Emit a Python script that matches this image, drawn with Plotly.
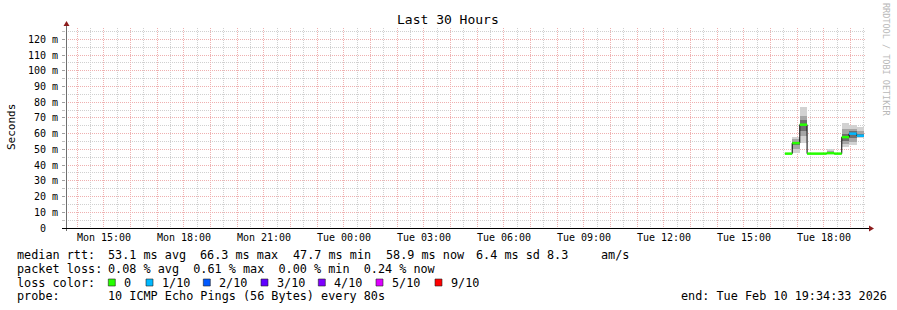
import plotly.graph_objects as go
import pandas as pd

# ---------------- data ----------------
title_text = "Last 30 Hours"
x_start = "2026-02-09 13:34:33"
x_end = "2026-02-10 19:34:33"

x_tick_times = ["2026-02-09 15:00", "2026-02-09 18:00", "2026-02-09 21:00",
                "2026-02-10 00:00", "2026-02-10 03:00", "2026-02-10 06:00",
                "2026-02-10 09:00", "2026-02-10 12:00", "2026-02-10 15:00",
                "2026-02-10 18:00"]
x_tick_labels = ["Mon 15:00", "Mon 18:00", "Mon 21:00", "Tue 00:00", "Tue 03:00",
                 "Tue 06:00", "Tue 09:00", "Tue 12:00", "Tue 15:00", "Tue 18:00"]

y_tick_vals = [0, 10, 20, 30, 40, 50, 60, 70, 80, 90, 100, 110, 120]
y_tick_labels = ["0\u00a0\u00a0", "10 m", "20 m", "30 m", "40 m", "50 m", "60 m",
                 "70 m", "80 m", "90 m", "100 m", "110 m", "120 m"]

step_start = ["2026-02-10 16:32:00", "2026-02-10 16:48:30", "2026-02-10 17:05:30",
              "2026-02-10 17:22:00", "2026-02-10 18:06:00", "2026-02-10 18:23:00",
              "2026-02-10 18:40:00", "2026-02-10 18:56:30", "2026-02-10 19:13:30"]
step_end = ["2026-02-10 16:48:30", "2026-02-10 17:05:30", "2026-02-10 17:22:00",
            "2026-02-10 18:06:00", "2026-02-10 18:23:00", "2026-02-10 18:40:00",
            "2026-02-10 18:56:30", "2026-02-10 19:13:30", "2026-02-10 19:30:00"]
median_ms = [47.3, 54.0, 65.7, 47.3, 47.6, 47.3, 57.8, 60.0, 58.7]
loss_idx = [0, 0, 0, 0, 0, 0, 0, 1, 1]
ping_min = [47.3, 47.6, 54.0, 47.3, 47.3, 47.3, 51.6, 52.7, 57.0]
ping_p20 = [47.3, 50.5, 58.5, 47.3, 47.5, 47.3, 53.5, 54.5, 57.8]
ping_p35 = [47.3, 52.5, 62.0, 47.3, 47.6, 47.3, 55.5, 57.0, 58.3]
ping_p65 = [47.3, 55.0, 68.5, 47.3, 48.0, 47.3, 60.0, 61.5, 59.5]
ping_p80 = [47.3, 56.5, 71.5, 47.3, 49.0, 47.3, 63.0, 63.0, 61.5]
ping_max = [47.3, 58.0, 76.8, 47.3, 50.0, 47.3, 66.9, 65.4, 64.3]

loss_labels = ["0", "1/10", "2/10", "3/10", "4/10", "5/10", "9/10"]
loss_colors = ["#26ff00", "#00b8ff", "#0059ff", "#5e00ff", "#7e00ff", "#dd00ff", "#ff0000"]

rtt_stats = ["53.1 ms avg", "66.3 ms max", "47.7 ms min", "58.9 ms now", "6.4 ms sd", "8.3", "am/s"]
loss_stats = "0.08 % avg  0.61 % max  0.00 % min  0.24 % now"
probe_text = "10 ICMP Echo Pings (56 Bytes) every 80s"
end_text = "end: Tue Feb 10 19:34:33 2026"

# ---------------- layout helpers ----------------
W, H = 897, 310
PL, PR, PT, PB = 66, 866, 28, 228
MONO = "DejaVu Sans Mono"


def px(x):
    return (x - PL) / (PR - PL)


def py(y):
    return (PB - y) / (PB - PT)


fig = go.Figure()

t0 = pd.to_datetime(step_start)
t1 = pd.to_datetime(step_end)
mids = t0 + (t1 - t0) / 2
widths = [(b - a).total_seconds() * 1000 for a, b in zip(t0, t1)]

# smoke bands (outer -> inner)
bands = [(ping_min, ping_max, "#d2d2d2"),
         (ping_p20, ping_p80, "#a6a6a6"),
         (ping_p35, ping_p65, "#6e6e6e")]
for lo, hi, col in bands:
    fig.add_trace(go.Bar(x=mids, y=[h - l for l, h in zip(lo, hi)], base=lo,
                         width=widths, marker=dict(color=col, line=dict(width=0)),
                         showlegend=False, hoverinfo="skip"))

# black connecting median line
fig.add_trace(go.Scatter(x=list(t0) + [t1[-1]], y=median_ms + [median_ms[-1]],
                         mode="lines", line=dict(color="black", width=1, shape="hv"),
                         showlegend=False, hoverinfo="skip"))

# coloured median segments by loss
for li, col in enumerate(loss_colors):
    xs, ys = [], []
    for a, b, m, l in zip(t0, t1, median_ms, loss_idx):
        if l == li:
            xs += [a, b, None]
            ys += [m, m, None]
    if xs:
        fig.add_trace(go.Scatter(x=xs, y=ys, mode="lines",
                                 line=dict(color=col, width=2.5),
                                 showlegend=False, hoverinfo="skip"))

# x grid: hourly (red), half-hourly (grey)
hours = pd.date_range("2026-02-09 14:00", "2026-02-10 19:00", freq="h")
half_hours = pd.date_range("2026-02-09 14:30", "2026-02-10 19:30", freq="h")
label_map = dict(zip(pd.to_datetime(x_tick_times), x_tick_labels))
hour_text = [label_map.get(h, "") for h in hours]

RED = "#efb0b0"
GREY = "#d0d0d0"

fig.update_layout(
    width=W, height=H,
    margin=dict(l=PL, r=W - PR, t=PT, b=H - PB, pad=0),
    paper_bgcolor="white", plot_bgcolor="white",
    barmode="overlay", bargap=0,
    showlegend=False,
    font=dict(family=MONO, color="black", size=10),
    xaxis=dict(
        type="date", range=[x_start, x_end],
        tickmode="array", tickvals=list(hours), ticktext=hour_text,
        showgrid=True, gridcolor=RED, griddash="1px,1px", gridwidth=1,
        ticks="", showline=False, zeroline=False,
        tickfont=dict(family=MONO, size=10, color="black"),
        minor=dict(tickmode="array", tickvals=list(half_hours), showgrid=True,
                   gridcolor=GREY, griddash="1px,1px", gridwidth=1, ticks=""),
        ticklabelstandoff=2,
    ),
    yaxis=dict(
        range=[0, 127.2], tickmode="array", tickvals=y_tick_vals, ticktext=y_tick_labels,
        showgrid=True, gridcolor=RED, griddash="1px,1px", gridwidth=1,
        ticks="outside", ticklen=3, tickcolor="#a0a0a0", tickwidth=1,
        showline=False, zeroline=False,
        tickfont=dict(family=MONO, size=10, color="black"),
        minor=dict(tickmode="array", tickvals=[v + 5 for v in y_tick_vals], showgrid=True,
                   gridcolor=GREY, griddash="1px,1px", gridwidth=1,
                   ticks="outside", ticklen=3, tickcolor="#c0c0c0"),
        ticklabelstandoff=2,
    ),
)

shapes = []
# y axis line
shapes.append(dict(type="line", xref="paper", yref="paper", x0=px(66.5), x1=px(66.5),
                   y0=py(231), y1=py(24), line=dict(color="#6f6f6f", width=1), layer="above"))
# x axis line
shapes.append(dict(type="line", xref="paper", yref="paper", x0=px(62), x1=px(870),
                   y0=py(228.5), y1=py(228.5), line=dict(color="black", width=1), layer="above"))
# arrows
ARROW = "#8c1c1c"
shapes.append(dict(type="path", xref="paper", yref="paper", layer="above",
                   path=f"M {px(63.5)} {py(26)} L {px(69.5)} {py(26)} L {px(66.5)} {py(21)} Z",
                   fillcolor=ARROW, line=dict(color=ARROW, width=0)))
shapes.append(dict(type="path", xref="paper", yref="paper", layer="above",
                   path=f"M {px(869)} {py(225.5)} L {px(869)} {py(231.5)} L {px(874)} {py(228.5)} Z",
                   fillcolor=ARROW, line=dict(color=ARROW, width=0)))

annotations = []


def ann(text, x, y, size=11.8, xanchor="left", color="black", angle=0, yanchor="middle"):
    annotations.append(dict(text=text, x=px(x), y=py(y), xref="paper", yref="paper",
                            xanchor=xanchor, yanchor=yanchor, showarrow=False,
                            borderpad=0, textangle=angle,
                            font=dict(family=MONO, size=size, color=color)))


ann(title_text, 448, 20, size=13, xanchor="center")
ann("Seconds", 11, 127, size=11, xanchor="center", angle=-90)
ann("RRDTOOL / TOBI OETIKER", 886, 60, size=8.5, xanchor="center", color="#b8b8b8", angle=90)

row_y = [254.7, 268.5, 282.5, 296.2]
ann("median rtt:", 15.5, row_y[0])
rtt_x = [106.5, 199.2, 291.8, 385, 475, 545.5, 599.5]
for s, x in zip(rtt_stats, rtt_x):
    ann(s, x, row_y[0])
ann("packet loss:", 15.5, row_y[1])
ann(loss_stats, 106.5, row_y[1])
ann("loss color:", 15.5, row_y[2])
box_x = [108.3, 146, 203.3, 261, 318.3, 376, 435]
for lab, col, bx in zip(loss_labels, loss_colors, box_x):
    shapes.append(dict(type="rect", xref="paper", yref="paper",
                       x0=px(bx), x1=px(bx + 7), y0=py(286), y1=py(279),
                       fillcolor=col, line=dict(color="#222222", width=0.6), layer="above"))
    ann(lab, bx + 14.5, row_y[2])
ann("probe:", 15.5, row_y[3])
ann(probe_text, 106.5, row_y[3])
ann(end_text, 888, row_y[3], xanchor="right")

fig.update_layout(shapes=shapes, annotations=annotations)

fig.write_html("out.html")
